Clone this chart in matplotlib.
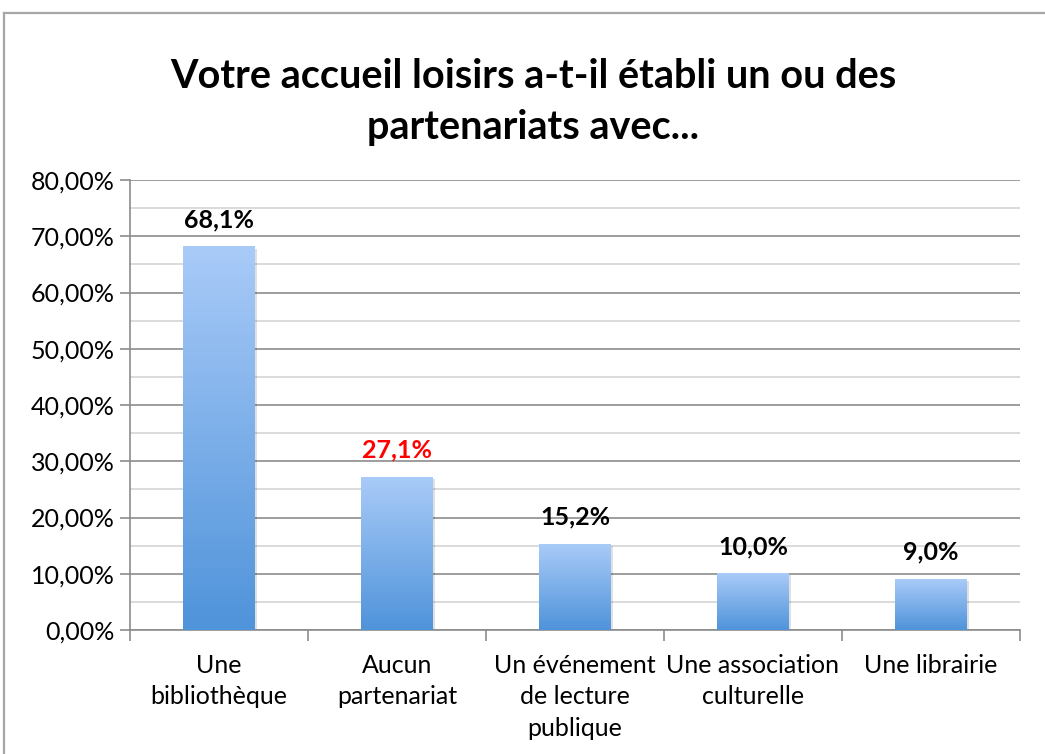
import numpy as np
import matplotlib
matplotlib.use('Agg')
import matplotlib.pyplot as plt
from matplotlib.colors import LinearSegmentedColormap
from matplotlib.patches import Rectangle
from matplotlib.lines import Line2D

categories = ['Une\nbibliothèque', 'Aucun\npartenariat', 'Un événement\nde lecture\npublique',
              'Une association\nculturelle', 'Une librairie']
values = [68.1, 27.1, 15.2, 10.0, 9.0]
label_colors = ['black', 'red', 'black', 'black', 'black']
title = 'Votre accueil loisirs a-t-il établi un ou des\npartenariats avec...'

plt.rcParams['font.family'] = ['Lato', 'DejaVu Sans']

fig = plt.figure(figsize=(10.45, 7.54), dpi=100)
ax = fig.add_axes([130/1045, 1 - 630/754, 890/1045, 450/754])

# outer chart border (top and left visible)
fig.add_artist(Line2D([4/1045, 4/1045], [0, 1 - 13/754], color='#A6A6A6', lw=1.6, transform=fig.transFigure))
fig.add_artist(Line2D([4/1045, 1], [1 - 13/754, 1 - 13/754], color='#A6A6A6', lw=1.6, transform=fig.transFigure))

cmap = LinearSegmentedColormap.from_list('bar', ['#4F93DA', '#A9CBF8'])
grad = np.linspace(0, 1, 256).reshape(-1, 1)

x = np.arange(len(values))
width = 0.4
bars = ax.bar(x, values, width=width, color='none', zorder=3)
for b in bars:
    x0, y0 = b.get_x(), b.get_y()
    w, h = b.get_width(), b.get_height()
    # soft shadow
    ax.add_patch(Rectangle((x0 + 0.012, y0), w, h - 0.3, color='#000000', alpha=0.12, lw=0, zorder=2))
    ax.imshow(grad, extent=[x0, x0 + w, y0, y0 + h], origin='lower', aspect='auto', cmap=cmap, zorder=3)

for xi, v, c in zip(x, values, label_colors):
    ax.text(xi, v + 2.8, f'{v:.1f}%'.replace('.', ','), ha='center', va='bottom',
            fontsize=18, fontweight='bold', color=c)

ax.set_xlim(-0.5, len(values) - 0.5)
ax.set_ylim(0, 80)

yt = np.arange(0, 81, 10)
ax.set_yticks(yt)
ax.set_yticklabels([f'{t:.2f}%'.replace('.', ',') for t in yt], fontsize=18)
ax.set_yticks(np.arange(5, 80, 10), minor=True)
ax.grid(axis='y', which='major', color='#8C8C8C', lw=1.2, zorder=0)
ax.grid(axis='y', which='minor', color='#D4D4D4', lw=1.2, zorder=0)
ax.tick_params(axis='y', which='major', length=7, color='#8C8C8C', width=1.2, pad=4)
ax.tick_params(axis='y', which='minor', length=0)

ax.set_xticks(x)
ax.set_xticklabels(categories, fontsize=18, linespacing=1.45, va='top')
ax.tick_params(axis='x', which='major', length=0, pad=17)
ax.set_xticks(np.arange(-0.5, len(values)), minor=True)
ax.tick_params(axis='x', which='minor', length=8, color='#8C8C8C', width=1.2)

for s in ['top', 'right']:
    ax.spines[s].set_visible(False)
for s in ['left', 'bottom']:
    ax.spines[s].set_color('#8C8C8C')
    ax.spines[s].set_linewidth(1.2)

fig.text(533/1045, 1 - 102/754, title, ha='center', va='center', fontsize=28.5,
         fontweight='bold', linespacing=1.45)

fig.savefig('out.png', dpi=100)
